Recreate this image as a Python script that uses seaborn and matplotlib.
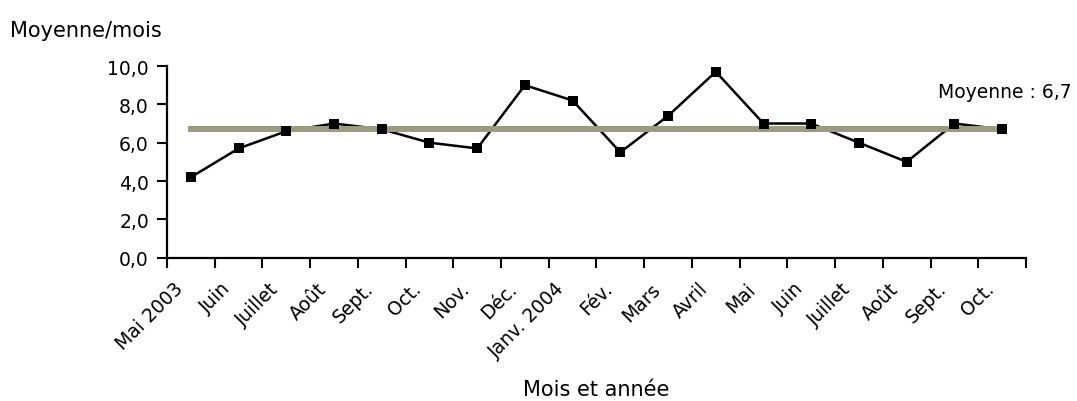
import matplotlib
matplotlib.use("Agg")
import matplotlib.pyplot as plt
import matplotlib.transforms as mtransforms
import pandas as pd
import seaborn as sns

sns.set_theme(style="white")
plt.rcParams['font.family'] = ['DejaVu Sans']
plt.rcParams['text.color'] = 'black'
plt.rcParams['xtick.color'] = 'black'
plt.rcParams['ytick.color'] = 'black'

# --- data ---
mois = ["Mai 2003", "Juin", "Juillet", "Août", "Sept.", "Oct.", "Nov.", "Déc.",
        "Janv. 2004", "Fév.", "Mars", "Avril", "Mai", "Juin", "Juillet", "Août",
        "Sept.", "Oct."]
valeurs = [4.2, 5.7, 6.6, 7.0, 6.7, 6.0, 5.7, 9.0, 8.2, 5.5, 7.4, 9.7,
           7.0, 7.0, 6.0, 5.0, 7.0, 6.7]
moyenne = 6.7
yticks = [0, 2, 4, 6, 8, 10]

df = pd.DataFrame({"pos": range(len(mois)), "mois": mois, "valeur": valeurs,
                   "moyenne": [moyenne] * len(mois)})

fs = 13.5
fig = plt.figure(figsize=(10.77, 4.02), dpi=100)
ax = fig.add_axes([0.1551, 0.3565, 0.7975, 0.4768])

# data line, then mean line over it, then markers on top
sns.lineplot(data=df, x="pos", y="valeur", color="black", linewidth=1.8,
             ax=ax, zorder=2)
sns.lineplot(data=df, x="pos", y="moyenne", color="#9b9b82", linewidth=4.3,
             ax=ax, zorder=3, solid_capstyle="projecting")
sns.scatterplot(data=df, x="pos", y="valeur", color="black", marker="s",
                s=62, linewidth=0, ax=ax, zorder=4)

ax.set_xlim(-0.5, len(mois) - 0.5)
ax.set_ylim(0, 10)
ax.set_yticks(yticks)
ax.set_yticklabels([f"{v:.1f}".replace(".", ",") for v in yticks], fontsize=fs)

# boundaries as ticks, labels at centres
ax.set_xticks([i - 0.5 for i in range(len(mois) + 1)], minor=True)
ax.set_xticks(list(df["pos"]))
ax.set_xticklabels(mois, fontsize=fs, rotation=45, ha="right", va="center",
                   rotation_mode="anchor")

ax.tick_params(axis="x", which="major", length=0, pad=20)
ax.tick_params(axis="x", which="minor", length=7, width=1.5, color="black",
               direction="out", bottom=True)
ax.tick_params(axis="y", length=7, width=1.5, color="black", direction="out",
               left=True, pad=6)

shift = mtransforms.ScaledTranslation(-11 / 100, 0, fig.dpi_scale_trans)
for lab in ax.get_xticklabels():
    lab.set_transform(lab.get_transform() + shift)

sns.despine(ax=ax)
for sp in ["left", "bottom"]:
    ax.spines[sp].set_color("black")
    ax.spines[sp].set_linewidth(1.6)

ax.set_xlabel("")
ax.set_ylabel("")
fig.text(596 / 1077, 1 - 390 / 402, "Mois et année", ha="center", va="center",
         fontsize=15)
fig.text(10 / 1077, 1 - 31 / 402, "Moyenne/mois", ha="left", va="center",
         fontsize=15)
ax.text(1072 / 1077, 1 - 92 / 402, "Moyenne : 6,7", ha="right", va="center",
        fontsize=fs, transform=fig.transFigure)

fig.savefig("out.png", dpi=100)
